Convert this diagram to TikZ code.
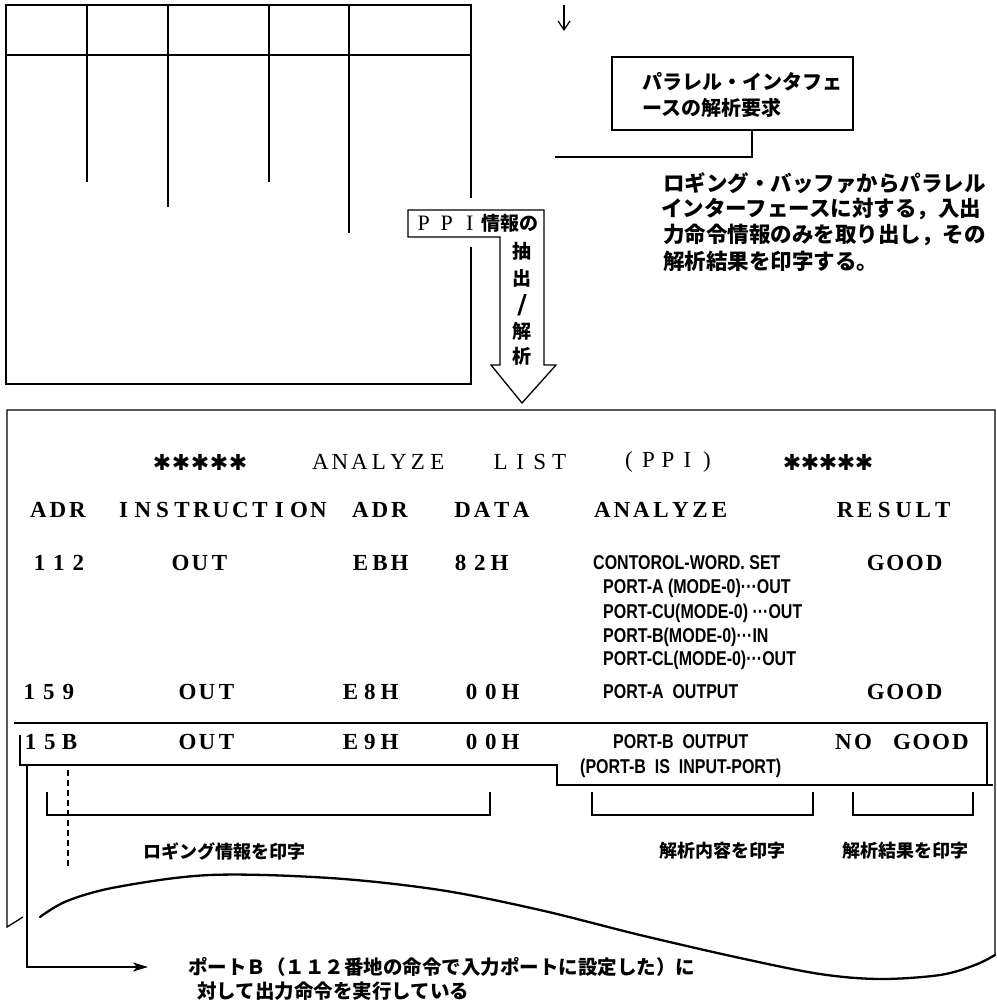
\documentclass[tikz,border=0pt]{standalone}
\usepackage{fontspec}
\usepackage{graphicx}
\usetikzlibrary{arrows.meta}
\setmainfont{Liberation Serif}
\newfontfamily\jp{Noto Sans CJK JP}
\newfontfamily\sansf{Liberation Sans}
\newfontfamily\dvs{DejaVu Sans}
\ExplSyntaxOn
\NewDocumentCommand\mono{O{19.5pt}m}{\str_map_inline:nn{#2}{\makebox[#1][c]{##1}}}
\ExplSyntaxOff
\newcommand\cond[1]{\scalebox{0.8}[1]{#1}}
\tikzset{
  ln/.style={line width=1.3pt},
  mn/.style={font=\bfseries\fontsize{23}{23}\selectfont, inner sep=0pt, anchor=center},
  tn/.style={font=\fontsize{23}{23}\selectfont, inner sep=0pt, anchor=center},
  st/.style={font=\dvs\fontsize{22}{22}\selectfont, inner sep=0pt, anchor=center},
  an/.style={font=\sansf\bfseries\fontsize{20}{20}\selectfont, inner sep=0pt, anchor=west},
  jt/.style={font=\jp\bfseries\fontsize{20}{24}\selectfont, inner sep=0pt},
  jd/.style={font=\jp\bfseries\fontsize{21.5}{26}\selectfont, inner sep=0pt, anchor=west},
  jl/.style={font=\jp\bfseries\fontsize{18}{22}\selectfont, inner sep=0pt, anchor=center},
  jv/.style={font=\jp\bfseries\fontsize{19}{19}\selectfont, inner sep=0pt, anchor=center},
}
\begin{document}
\begin{tikzpicture}[x=1pt,y=-1pt]
\useasboundingbox[fill=white] (0,0) rectangle (996,1006);

% ---- top-left table ----
\draw[ln] (471,198) -- (471,5) -- (6,5) -- (6,384) -- (471,384) -- (471,247);
\draw[ln] (6,55) -- (471,55);
\draw[ln] (87,5) -- (87,182);
\draw[ln] (168,5) -- (168,207);
\draw[ln] (269,5) -- (269,182);
\draw[ln] (349,5) -- (349,233);

% ---- top-right request box ----
\coordinate (tin) at (564,5);
\coordinate (tout) at (564,31);
\draw[line width=1.2pt,-{Straight Barb[length=9pt,width=12pt,line width=1.2pt]}] (tin) -- (tout);
\node[draw, ln, minimum width=241pt, minimum height=73pt, inner sep=0pt] (req) at (732.5,93.5) {};
\node[jt, anchor=west] (req1) at (642,82) {パラレル・インタフェ};
\node[jt, anchor=west] (req2) at (642,108) {ースの解析要求};
\coordinate (j1) at (555,157);
\draw[ln] ([xshift=19.5pt]req.south) |- (j1);

% ---- description ----
\node[jd] (d1) at (663,183) {ロギング・バッファからパラレル};
\node[jd] (d2) at (661,209) {インターフェースに対する，入出};
\node[jd] (d3) at (663,235) {力命令情報のみを取り出し，その};
\node[jd] (d4) at (663,261) {解析結果を印字する。};

% ---- PPI box + big arrow ----
\draw[ln, fill=white] (408,210) -- (544,210) -- (544,365) -- (556,365) -- (522,403)
   -- (491,365) -- (500,365) -- (500,237) -- (408,237) -- cycle;
\node[inner sep=0pt, anchor=west] (ppi) at (412,223.5)
  {{\fontsize{22}{22}\selectfont\mono[23pt]{PPI}}{\jp\bfseries\fontsize{19}{19}\selectfont 情報の}};
\node[jv] (v1) at (522,251) {抽};
\node[jv] (v2) at (522,278) {出};
\node[inner sep=0pt, font=\dvs\bfseries\fontsize{26}{26}\selectfont] (v3) at (522,305) {/};
\node[jv] (v4) at (522,331) {解};
\node[jv] (v5) at (522,356) {析};

% ---- bottom frame ----
\draw[ln] (23,917) -- (7,927) -- (7,410) -- (995,410) -- (995,955);
\draw[line width=2.3pt, line cap=round] plot[smooth, tension=0.55] coordinates
  {(40,917) (67,901) (117,887) (210,875) (330,878) (440,890) (540,910) (640,935)
   (740,958) (820,974) (880,979) (940,975) (975,965) (995,955)};

% title
\node[st] (s1) at (200,462) {\mono[19pt]{✱✱✱✱✱}};
\node[tn] (t1) at (379,462) {\mono{ANALYZE}};
\node[tn] (t2) at (530,462) {\mono{LIST}};
\node[tn] (t3) at (668,462) {\mono{(PPI)}};
\node[st] (s2) at (828,462) {\mono[18pt]{✱✱✱✱✱}};
% header
\node[mn] (h1) at (58,510) {\mono{ADR}};
\node[mn] (h2) at (221,510) {\mono{INSTRUCTION}};
\node[mn] (h3) at (380,510) {\mono{ADR}};
\node[mn] (h4) at (492,510) {\mono{DATA}};
\node[mn] (h5) at (661,510) {\mono{ANALYZE}};
\node[mn] (h6) at (894,510) {\mono{RESULT}};
% row 112
\node[mn] (r1a) at (59,563) {\mono{112}};
\node[mn] (r1b) at (200,563) {\mono{OUT}};
\node[mn] (r1c) at (380,563) {\mono{EBH}};
\node[mn] (r1d) at (480,563) {\mono{82H}};
\node[mn] (r1f) at (905,563) {\mono{GOOD}};
\node[an] (a1) at (593,563) {\cond{CONTOROL-WORD. SET}};
\node[an] (a2) at (603,588) {\cond{PORT-A (MODE-0)···OUT}};
\node[an] (a3) at (603,613) {\cond{PORT-CU(MODE-0) ···OUT}};
\node[an] (a4) at (603,637) {\cond{PORT-B(MODE-0)···IN}};
\node[an] (a5) at (603,660) {\cond{PORT-CL(MODE-0)···OUT}};
% row 159
\node[mn] (r2a) at (49,692) {\mono{159}};
\node[mn] (r2b) at (207,692) {\mono{OUT}};
\node[mn] (r2c) at (370,692) {\mono{E8H}};
\node[mn] (r2d) at (491,692) {\mono{00H}};
\node[an] (a6) at (603,692) {\cond{PORT-A\ \ OUTPUT}};
\node[mn] (r2f) at (905,692) {\mono{GOOD}};
% row 15B (highlighted)
\draw[ln] (14,723) -- (987,723) -- (987,785);
\draw[ln] (993,785) -- (557,785) -- (557,765) -- (20,765) -- (20,735);
\node[mn] (r3a) at (50,742) {\mono{15B}};
\node[mn] (r3b) at (207,742) {\mono{OUT}};
\node[mn] (r3c) at (370,742) {\mono{E9H}};
\node[mn] (r3d) at (491,742) {\mono{00H}};
\node[an] (a7) at (613,742) {\cond{PORT-B\ \ OUTPUT}};
\node[an] (a8) at (580,768) {\cond{(PORT-B\ \ IS\ \ INPUT-PORT)}};
\node[mn] (r3f) at (902,742) {\mono{NO GOOD}};

% brackets
\draw[ln] (47,792) |- (490,815) -- (490,792);
\draw[ln] (592,792) |- (813,815) -- (813,792);
\draw[ln] (853,792) |- (973,815) -- (973,792);
\node[jl] (l1) at (224,851) {ロギング情報を印字};
\node[jl] (l2) at (722,851) {解析内容を印字};
\node[jl] (l3) at (905,851) {解析結果を印字};

% dashed marker
\draw[line width=2.2pt, dash pattern=on 6pt off 4pt] (68,770) -- (68,867);

% note with arrow
\node[jt, font=\jp\bfseries\fontsize{19.5}{24}\selectfont, anchor=west] (n1) at (188,967)
  {ポートＢ（１１２番地の命令で入力ポートに設定した）に};
\node[jt, font=\jp\bfseries\fontsize{19.5}{24}\selectfont, anchor=west] (n2) at (197,991)
  {対して出力命令を実行している};
\coordinate (a0) at (27,765);
\draw[ln, -{Stealth[length=15pt,width=9pt,inset=4pt]}] (a0) |- ([xshift=-40pt]n1.west);
\end{tikzpicture}
\end{document}
